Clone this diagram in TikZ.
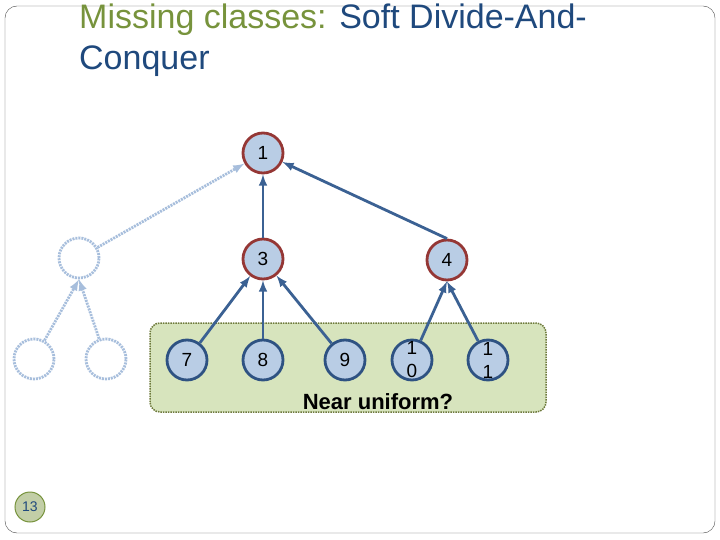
\documentclass[tikz,border=0pt]{standalone}
\usepackage{fontspec}
\setmainfont{Liberation Sans}
\usetikzlibrary{arrows,calc}
\definecolor{olive}{HTML}{77933C}
\definecolor{navy}{HTML}{1F497D}
\definecolor{nfill}{HTML}{B9CDE5}
\definecolor{nred}{HTML}{953735}
\definecolor{nblue}{HTML}{2E5282}
\definecolor{edgec}{HTML}{3B6193}
\definecolor{ghost}{HTML}{A7BEDC}
\definecolor{boxfill}{HTML}{D7E4BD}
\definecolor{boxdraw}{HTML}{6E7A3C}
\tikzset{
  main/.style={circle, minimum size=40pt, inner sep=0pt, fill=nfill, line width=2.8pt, font=\fontsize{19}{19}\selectfont},
  top/.style={main, draw=nred},
  leaf/.style={main, draw=nblue},
  hollow/.style={circle, minimum size=40pt, draw=ghost, line width=2.8pt, dash pattern=on 2pt off 1pt},
  connect/.style={-latex, line width=2.8pt, draw=edgec},
  faint/.style={-latex, line width=2.8pt, draw=ghost, dash pattern=on 2pt off 1pt}
}
\begin{document}
\begin{tikzpicture}[x=1pt,y=-1pt]
  \useasboundingbox (0,0) rectangle (720,540);
  \draw[black!70,rounded corners=12pt] (5,6) rectangle (715,533);
  \node[anchor=base west,font=\fontsize{34}{38}\selectfont,inner sep=0pt] (title) at (79,29)
    {\textcolor{olive}{Missing classes:} \textcolor{navy}{Soft Divide-And-}};
  \node[anchor=base west,font=\fontsize{34}{38}\selectfont,text=navy,inner sep=0pt] (title2) at (79,70) {Conquer};

  \draw[boxdraw, fill=boxfill, rounded corners=10pt, densely dotted, line width=1.5pt]
    (150,323) rectangle (546,412);
  \node[font=\bfseries\fontsize{22}{24}\selectfont] (caption) at (378,402) {Near uniform?};

  \node[top] (n1) at (263,153) {1};
  \node[top] (n3) at (263,259) {3};
  \node[top] (n4) at (447,260) {4};
  \node[hollow] (h) at (79,258) {};
  \node[hollow] (ha) at (34,359) {};
  \node[hollow] (hb) at (106,359) {};
  \node[leaf] (n7) at (187,360) {7};
  \node[leaf] (n8) at (263,360) {8};
  \node[leaf] (n9) at (345,360) {9};
  \node[leaf,align=center,font=\fontsize{19}{23}\selectfont] (n10) at (412,360) {1\\0};
  \node[leaf,align=center,font=\fontsize{19}{23}\selectfont] (n11) at (488,360) {1\\1};
  \node[circle, fill=olive!45!white, draw=olive, line width=1pt, minimum size=30pt, font=\fontsize{14}{14}\selectfont, text=navy] (num) at (30,507) {13};

  \draw[connect] (n3) -- (n1);
  \draw[connect] (n4.north) -- (n1);
  \draw[faint] (h) -- (n1);
  \draw[faint] (ha) -- (h.south);
  \draw[faint] (hb) -- (h.south);
  \draw[connect] (n7) -- (n3);
  \draw[connect] (n8) -- (n3);
  \draw[connect] (n9) -- (n3);
  \draw[connect] (n10) -- (n4.south);
  \draw[connect] (n11) -- (n4.south);
\end{tikzpicture}
\end{document}
